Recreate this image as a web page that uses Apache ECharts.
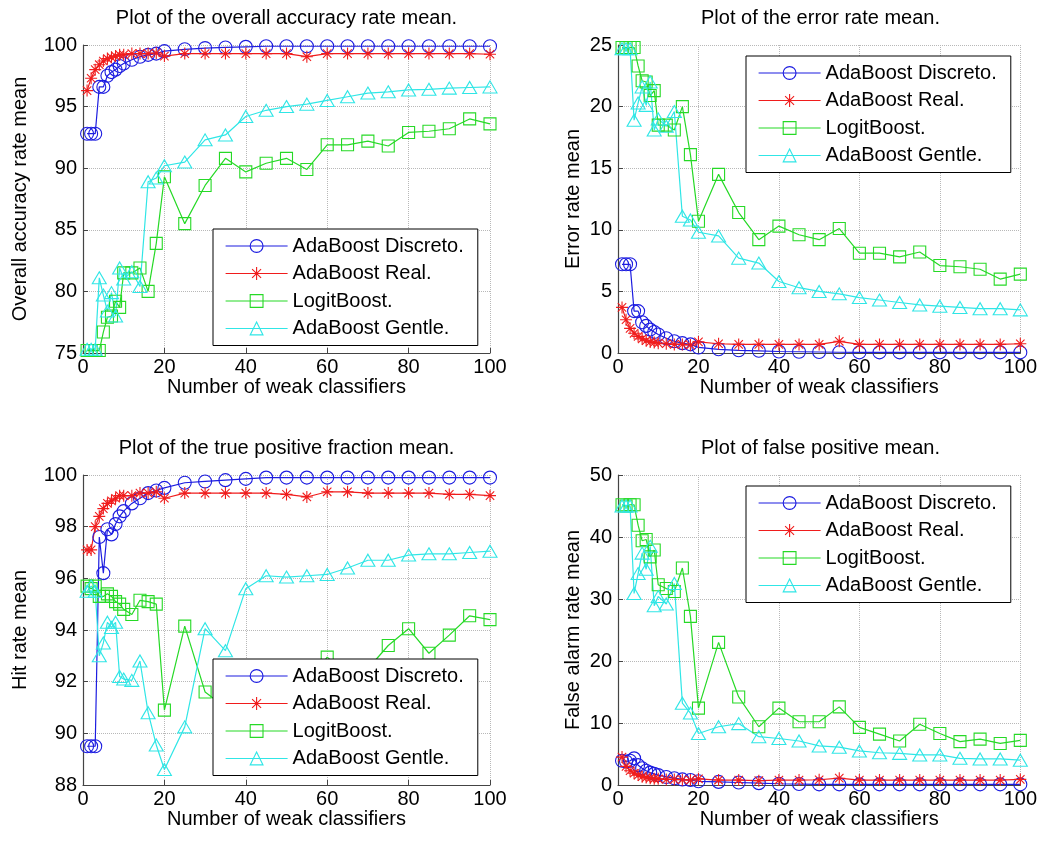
<!DOCTYPE html>
<html>
<head>
<meta charset="utf-8">
<script src="https://cdn.jsdelivr.net/npm/echarts@6/dist/echarts.min.js"></script>
<style>
html, body { margin: 0; padding: 0; background: #fff; }
#chart { width: 1040px; height: 845px; }
</style>
</head>
<body>
<div id="chart"></div>
<script>
// number of weak classifiers (x positions of every point)
const weakClassifiers = [1, 2, 3, 4, 5, 6, 7, 8, 9, 10, 12, 14, 16, 18, 20, 25, 30, 35, 40, 45, 50, 55, 60, 65, 70, 75, 80, 85, 90, 95, 100];

const seriesNames = ['AdaBoost Discreto.', 'AdaBoost Real.', 'LogitBoost.', 'AdaBoost Gentle.'];

// overall accuracy rate mean
const accDiscreto = [92.8, 92.8, 92.8, 96.6, 96.6, 97.5, 97.8, 98.0, 98.3, 98.5, 98.8, 99.05, 99.2, 99.3, 99.5, 99.65, 99.75, 99.8, 99.85, 99.9, 99.9, 99.9, 99.9, 99.9, 99.9, 99.9, 99.9, 99.9, 99.9, 99.9, 99.9];
const accReal = [96.3, 97.3, 98.0, 98.4, 98.7, 98.9, 99.0, 99.1, 99.2, 99.2, 99.3, 99.3, 99.3, 99.35, 99.1, 99.3, 99.3, 99.3, 99.3, 99.3, 99.3, 99.05, 99.3, 99.3, 99.3, 99.3, 99.3, 99.3, 99.3, 99.3, 99.25];
const accLogit = [75.2, 75.2, 75.2, 75.2, 76.7, 77.9, 78.0, 79.2, 78.7, 81.5, 81.5, 81.9, 80.0, 83.9, 89.3, 85.5, 88.6, 90.8, 89.7, 90.4, 90.8, 89.9, 91.9, 91.9, 92.2, 91.8, 92.9, 93.0, 93.2, 94.0, 93.6];
const accGentle = [75.3, 75.3, 75.3, 81.1, 79.7, 78.4, 79.9, 78.0, 81.9, 81.0, 81.6, 80.4, 88.9, 89.2, 90.2, 90.5, 92.3, 92.7, 94.2, 94.7, 95.0, 95.2, 95.5, 95.8, 96.1, 96.2, 96.35, 96.4, 96.5, 96.55, 96.6];

// error rate mean
const errDiscreto = [7.2, 7.2, 7.2, 3.4, 3.4, 2.5, 2.2, 1.9, 1.7, 1.5, 1.2, 0.95, 0.8, 0.7, 0.45, 0.3, 0.22, 0.18, 0.12, 0.1, 0.08, 0.06, 0.05, 0.05, 0.05, 0.05, 0.05, 0.05, 0.05, 0.05, 0.05];
const errReal = [3.7, 2.7, 2.0, 1.6, 1.35, 1.15, 1.0, 0.9, 0.85, 0.8, 0.75, 0.7, 0.7, 0.65, 0.9, 0.75, 0.7, 0.7, 0.7, 0.7, 0.7, 0.95, 0.7, 0.7, 0.7, 0.7, 0.7, 0.7, 0.7, 0.7, 0.75];
const errLogit = [24.8, 24.8, 24.8, 24.8, 23.3, 22.1, 22.0, 20.9, 21.3, 18.5, 18.5, 18.1, 20.0, 16.1, 10.7, 14.5, 11.4, 9.2, 10.3, 9.6, 9.2, 10.1, 8.1, 8.1, 7.8, 8.2, 7.1, 7.0, 6.8, 6.0, 6.4];
const errGentle = [24.7, 24.7, 24.7, 18.9, 20.3, 21.6, 20.1, 22.0, 18.1, 19.0, 18.4, 19.6, 11.1, 10.8, 9.8, 9.5, 7.7, 7.3, 5.8, 5.3, 5.0, 4.8, 4.5, 4.3, 4.1, 3.9, 3.8, 3.7, 3.6, 3.6, 3.5];

// true positive fraction (hit rate) mean
const hitDiscreto = [89.5, 89.5, 89.5, 97.6, 96.2, 97.9, 97.7, 98.1, 98.4, 98.6, 98.9, 99.1, 99.3, 99.4, 99.5, 99.7, 99.75, 99.8, 99.85, 99.9, 99.9, 99.9, 99.9, 99.9, 99.9, 99.9, 99.9, 99.9, 99.9, 99.9, 99.9];
const hitReal = [97.1, 97.1, 98.0, 98.4, 98.7, 98.9, 99.0, 99.1, 99.2, 99.2, 99.2, 99.3, 99.3, 99.35, 99.1, 99.3, 99.3, 99.3, 99.3, 99.3, 99.25, 99.15, 99.35, 99.35, 99.3, 99.3, 99.3, 99.3, 99.25, 99.25, 99.2];
const hitLogit = [95.7, 95.6, 95.7, 95.3, 95.3, 95.4, 95.3, 95.1, 95.0, 94.8, 94.6, 95.15, 95.1, 95.0, 90.9, 94.15, 91.6, 91.0, 90.6, 91.2, 91.5, 91.9, 92.95, 92.3, 92.5, 93.4, 94.05, 93.1, 93.8, 94.55, 94.4];
const hitGentle = [95.5, 95.7, 95.5, 93.0, 93.5, 94.3, 94.1, 94.3, 92.2, 92.1, 92.05, 92.8, 90.8, 89.55, 88.6, 90.25, 94.05, 93.2, 95.6, 96.1, 96.05, 96.1, 96.15, 96.4, 96.7, 96.7, 96.9, 96.95, 96.95, 97.0, 97.05];

// false positive (false alarm rate) mean
const faDiscreto = [3.9, 3.8, 3.9, 4.3, 3.2, 2.7, 2.3, 2.0, 1.8, 1.6, 1.3, 1.1, 0.9, 0.8, 0.6, 0.5, 0.4, 0.3, 0.2, 0.15, 0.1, 0.1, 0.1, 0.1, 0.1, 0.1, 0.1, 0.1, 0.1, 0.1, 0.1];
const faReal = [4.5, 3.0, 2.3, 1.9, 1.6, 1.35, 1.2, 1.1, 1.0, 1.0, 0.9, 0.9, 0.85, 0.8, 1.0, 0.8, 0.8, 0.7, 0.8, 0.8, 0.85, 1.1, 0.8, 0.8, 0.8, 0.8, 0.8, 0.8, 0.8, 0.8, 0.9];
const faLogit = [45.2, 45.0, 45.2, 45.2, 41.9, 39.4, 39.6, 36.8, 37.9, 32.3, 31.7, 31.2, 35.0, 27.2, 12.4, 23.0, 14.2, 9.4, 12.4, 10.2, 10.2, 12.6, 9.3, 8.2, 7.1, 9.8, 8.3, 7.0, 7.4, 6.7, 7.2];
const faGentle = [45.0, 45.0, 45.0, 30.9, 34.1, 37.4, 34.8, 38.5, 28.9, 30.4, 29.2, 32.5, 13.2, 11.6, 8.3, 9.4, 9.9, 7.8, 7.5, 7.1, 6.3, 6.1, 5.5, 5.2, 5.1, 4.85, 4.85, 4.3, 4.2, 4.2, 4.0];

// matlab style '*' marker, drawn as strokes
const starPath = 'path://M50 0L50 100M0 50L100 50M15 15L85 85M85 15L15 85';

const lineLook = [
    { color: '#1c1ce0', symbol: 'circle', size: 13 },
    { color: '#f01c1c', symbol: starPath, size: 12 },
    { color: '#26d926', symbol: 'rect', size: 12 },
    { color: '#30e6e6', symbol: 'triangle', size: [14, 12] }
];

const panels = [
    {
        title: 'Plot of the overall accuracy rate mean.', yName: 'Overall accuracy rate mean',
        min: 75, max: 100, interval: 5,
        grid: { left: 83, top: 45, width: 407, height: 308 },
        legendPos: { left: 213, top: 229 }, nameGap: 53,
        values: [accDiscreto, accReal, accLogit, accGentle]
    },
    {
        title: 'Plot of the error rate mean.', yName: 'Error rate mean',
        min: 0, max: 25, interval: 5,
        grid: { left: 618, top: 45, width: 405, height: 308 },
        legendPos: { left: 746, top: 56 }, nameGap: 35,
        values: [errDiscreto, errReal, errLogit, errGentle]
    },
    {
        title: 'Plot of the true positive fraction mean.', yName: 'Hit rate mean',
        min: 88, max: 100, interval: 2,
        grid: { left: 83, top: 475, width: 407, height: 310 },
        legendPos: { left: 213, top: 659 }, nameGap: 53,
        values: [hitDiscreto, hitReal, hitLogit, hitGentle]
    },
    {
        title: 'Plot of false positive mean.', yName: 'False alarm rate mean',
        min: 0, max: 50, interval: 10,
        grid: { left: 618, top: 475, width: 405, height: 310 },
        legendPos: { left: 746, top: 486 }, nameGap: 35,
        values: [faDiscreto, faReal, faLogit, faGentle]
    }
];

const FONT = 'Liberation Sans, Arial, sans-serif';
const axisGrey = '#444';

function drawChart() {
    var dom = document.getElementById('chart');
    var myChart = echarts.init(dom, null, { renderer: 'canvas' });

    var titles = [], grids = [], xAxes = [], yAxes = [], legends = [], series = [];

    panels.forEach(function (p, i) {
        grids.push(Object.assign({ containLabel: false }, p.grid));
        titles.push({
            text: p.title,
            left: p.grid.left + p.grid.width / 2,
            top: p.grid.top - 37,
            textAlign: 'center',
            padding: 0,
            textStyle: { fontSize: 20, fontWeight: 'normal', color: '#000', fontFamily: FONT }
        });
        xAxes.push({
            gridIndex: i, type: 'value', min: 0, max: 100, interval: 20,
            name: 'Number of weak classifiers', nameLocation: 'middle', nameGap: 17,
            nameTextStyle: { fontSize: 20, color: '#000', fontFamily: FONT },
            axisLine: { onZero: false, lineStyle: { color: axisGrey, width: 1.2 } },
            axisTick: { inside: true, length: 5, lineStyle: { color: axisGrey } },
            axisLabel: { fontSize: 20, color: '#000', margin: 4, fontFamily: FONT },
            splitLine: { show: true, lineStyle: { type: 'dotted', color: '#b8b8b8' } }
        });
        yAxes.push({
            gridIndex: i, type: 'value', min: p.min, max: p.max, interval: p.interval,
            name: p.yName, nameLocation: 'middle', nameGap: p.nameGap,
            nameTextStyle: { fontSize: 20, color: '#000', fontFamily: FONT },
            axisLine: { show: true, onZero: false, lineStyle: { color: axisGrey, width: 1.2 } },
            axisTick: { show: true, inside: true, length: 5, lineStyle: { color: axisGrey } },
            axisLabel: { fontSize: 20, color: '#000', margin: 6, fontFamily: FONT },
            splitLine: { show: true, lineStyle: { type: 'dotted', color: '#b8b8b8' } }
        });
        legends.push({
            data: seriesNames,
            orient: 'vertical',
            left: p.legendPos.left,
            top: p.legendPos.top,
            padding: [7, 14, 7, 12],
            itemWidth: 62,
            itemHeight: 16,
            itemGap: 7.5,
            itemStyle: { borderWidth: 1.1 },
            lineStyle: { width: 1.2 },
            backgroundColor: '#fff',
            borderColor: '#000',
            borderWidth: 1,
            selectedMode: false,
            textStyle: { fontSize: 20, color: '#000', fontFamily: FONT }
        });
        p.values.forEach(function (vals, k) {
            var look = lineLook[k];
            series.push({
                name: seriesNames[k],
                type: 'line',
                xAxisIndex: i,
                yAxisIndex: i,
                data: weakClassifiers.map(function (x, j) { return [x, vals[j]]; }),
                symbol: look.symbol,
                symbolSize: look.size,
                showAllSymbol: true,
                clip: false,
                animation: false,
                color: look.color,
                lineStyle: { color: look.color, width: 1.2 },
                itemStyle: { color: 'none', borderColor: look.color, borderWidth: 1.1 },
                emphasis: { disabled: true }
            });
        });
    });

    var option = {
        backgroundColor: '#fff',
        animation: false,
        title: titles,
        grid: grids,
        xAxis: xAxes,
        yAxis: yAxes,
        legend: legends,
        series: series
    };

    myChart.setOption(option);
    window.addEventListener('resize', myChart.resize);
}

drawChart();
</script>
</body>
</html>
